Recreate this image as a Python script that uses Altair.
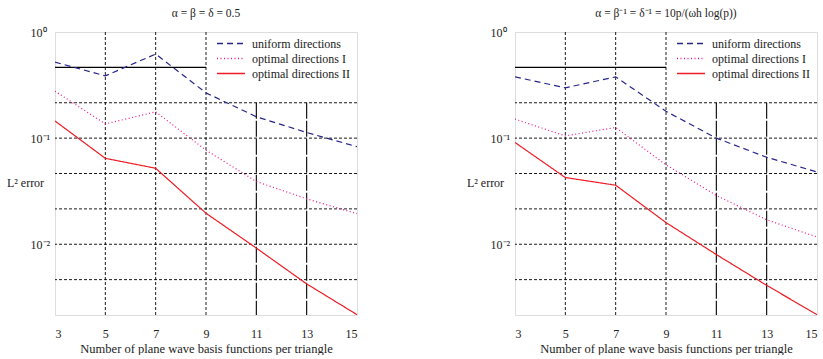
import altair as alt
import pandas as pd

# ---------------- data ----------------
p_values = [3, 5, 7, 9, 11, 13, 15]
series_names = ["uniform directions", "optimal directions I", "optimal directions II"]

left_uniform = [0.52, 0.386, 0.62, 0.267, 0.159, 0.113, 0.083]
left_opt1 = [0.277, 0.136, 0.177, 0.077, 0.039, 0.0268, 0.0194]
left_opt2 = [0.145, 0.0645, 0.052, 0.0196, 0.0092, 0.00423, 0.00217]

right_uniform = [0.378, 0.298, 0.378, 0.179, 0.100, 0.066, 0.048]
right_opt1 = [0.151, 0.105, 0.126, 0.056, 0.0288, 0.017, 0.0117]
right_opt2 = [0.091, 0.0425, 0.036, 0.016, 0.008, 0.0041, 0.00217]

left_title = "α = β = δ = 0.5"
right_title = "α = β⁻¹ = δ⁻¹ = 10p/(ωh log(p))"

x_ticks = [3, 5, 7, 9, 11, 13, 15]
y_ticks = [1, 0.1, 0.01]
y_min = 10 ** (-8 / 3)
h_grid = [10 ** (-2 / 3), 0.1, 10 ** (-4 / 3), 10 ** (-5 / 3), 0.01, 10 ** (-7 / 3)]
v_grid_full = [5, 7, 9]
v_grid_partial = [11, 13]
partial_h = [10 ** (-1 / 3)]

colors = ["#26268a", "#f0148c", "#ee1c25"]
dashes = [[6, 4], [1, 2.5], [1, 0]]

SERIF = "Liberation Serif, Times New Roman, serif"

W, H = 302, 283


def panel(title, uni, o1, o2):
    rows = []
    for name, vals in zip(series_names, [uni, o1, o2]):
        for p, v in zip(p_values, vals):
            rows.append({"p": p, "err": v, "series": name})
    df = pd.DataFrame(rows)

    xscale = alt.Scale(domain=[3, 15], nice=False, zero=False)
    yscale = alt.Scale(type="log", domain=[y_min, 1], nice=False)

    legend = alt.Legend(
        orient="none", legendX=168, legendY=3.5, title=None,
        labelFont=SERIF, labelFontSize=12, labelColor="#222",
        symbolType="M-2,0H2", symbolSize=196, symbolStrokeWidth=1.3,
        labelOffset=13, padding=0, rowPadding=1,
    )

    lines = alt.Chart(df).mark_line(strokeWidth=1.2, clip=True).encode(
        x=alt.X("p:Q", scale=xscale,
                axis=alt.Axis(values=x_ticks, grid=False, ticks=False, domain=False,
                              labelFont=SERIF, labelFontSize=12, labelColor="#222",
                              labelPadding=13, title="Number of plane wave basis functions per triangle",
                              titleFont=SERIF, titleFontSize=12.5, titleFontWeight="normal",
                              titleColor="#222", titlePadding=3)),
        y=alt.Y("err:Q", scale=yscale,
                axis=alt.Axis(values=y_ticks, grid=False, ticks=False, domain=False,
                              labelExpr="datum.value >= 0.5 ? '10⁰' : (datum.value >= 0.05 ? '10⁻¹' : '10⁻²')",
                              labelFont=SERIF, labelFontSize=12, labelColor="#222",
                              labelAlign="left", labelPadding=25, labelBaseline="middle",
                              title="L² error", titleFont=SERIF, titleFontSize=12,
                              titleFontWeight="normal", titleColor="#222", titleAngle=0,
                              titleAlign="center", titleBaseline="middle",
                              titleX=-30, titleY=150)),
        color=alt.Color("series:N", scale=alt.Scale(domain=series_names, range=colors), legend=legend),
        strokeDash=alt.StrokeDash("series:N", scale=alt.Scale(domain=series_names, range=dashes), legend=legend),
        order=alt.Order("p:Q"),
    )

    hg = alt.Chart(pd.DataFrame({"err": h_grid})).mark_rule(
        color="black", strokeWidth=0.9, strokeDash=[3, 2]).encode(y="err:Q")
    vg = alt.Chart(pd.DataFrame({"p": v_grid_full})).mark_rule(
        color="black", strokeWidth=0.9, strokeDash=[3, 2]).encode(x="p:Q")
    vg2 = alt.Chart(pd.DataFrame({"p": v_grid_partial, "top": [10 ** (-2 / 3)] * 2,
                                  "bot": [y_min] * 2})).mark_rule(
        color="black", strokeWidth=1.1, strokeDash=[16, 2]).encode(
        x="p:Q", y="top:Q", y2="bot:Q")
    hp = alt.Chart(pd.DataFrame({"err": partial_h, "x0": [3], "x1": [9]})).mark_rule(
        color="black", strokeWidth=1.1).encode(y="err:Q", x="x0:Q", x2="x1:Q")

    return alt.layer(hg, vg, vg2, hp, lines).properties(
        width=W, height=H,
        title=alt.TitleParams(title, font=SERIF, fontSize=11.5, fontWeight="normal",
                              color="#222", offset=7, anchor="middle"),
    )


left = panel(left_title, left_uniform, left_opt1, left_opt2)
right = panel(right_title, right_uniform, right_opt1, right_opt2)

chart = alt.hconcat(left, right, spacing=158, bounds="flush").resolve_scale(
    x="independent", y="independent", color="independent", strokeDash="independent"
).properties(
    padding={"left": 5, "top": 7, "right": 0, "bottom": 0},
    autosize=alt.AutoSizeParams(type="pad"),
).configure_view(stroke="#111", strokeWidth=1.2).configure(background="white")

chart.save("out.html", embed_options={"renderer": "svg", "actions": False})
